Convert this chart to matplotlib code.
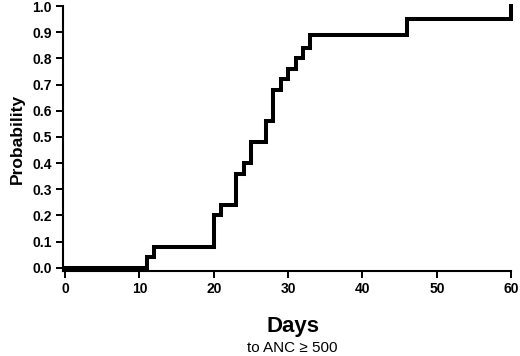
import matplotlib
matplotlib.use("Agg")
import matplotlib.pyplot as plt

plt.rcParams['font.family'] = ['Liberation Sans', 'DejaVu Sans']

# Kaplan-Meier style cumulative probability of ANC recovery
days = [0, 11, 12, 20, 21, 23, 24, 25, 27, 28, 29, 30, 31, 32, 33, 46, 60]
prob = [0.0, 0.04, 0.08, 0.20, 0.24, 0.36, 0.40, 0.48, 0.56, 0.68, 0.72,
        0.76, 0.80, 0.84, 0.89, 0.95, 1.0]
xticks = [0, 10, 20, 30, 40, 50, 60]
yticks = [0.0, 0.1, 0.2, 0.3, 0.4, 0.5, 0.6, 0.7, 0.8, 0.9, 1.0]

fig = plt.figure(figsize=(5.2, 3.56), dpi=100)
ax = fig.add_axes([0.121, 0.239, 0.862, 0.744])

ax.step(days, prob, where='post', color='black', lw=2.9, clip_on=False,
        solid_joinstyle='miter')

ax.set_xlim(-0.3, 60)
ax.set_ylim(-0.012, 1.0)
ax.set_xticks(xticks)
ax.set_xticklabels([str(t) for t in xticks])
ax.set_yticks(yticks)
ax.set_yticklabels(["%.1f" % t for t in yticks])

for side in ['top', 'right']:
    ax.spines[side].set_visible(False)
for side in ['left', 'bottom']:
    ax.spines[side].set_linewidth(1.5)
ax.tick_params(axis='both', direction='out', width=1.4, length=5,
               labelsize=10, pad=3)
for lbl in ax.get_xticklabels() + ax.get_yticklabels():
    lbl.set_fontweight('bold')

ax.set_ylabel('Probability', fontsize=12.5, fontweight='bold', labelpad=5)

fig.text(0.5625, 0.068, 'Days', fontsize=16, fontweight='bold',
         ha='center', va='baseline')
fig.text(0.5625, 0.012, 'to ANC \u2265 500', fontsize=11,
         ha='center', va='baseline')

fig.savefig('out.png', dpi=100)
